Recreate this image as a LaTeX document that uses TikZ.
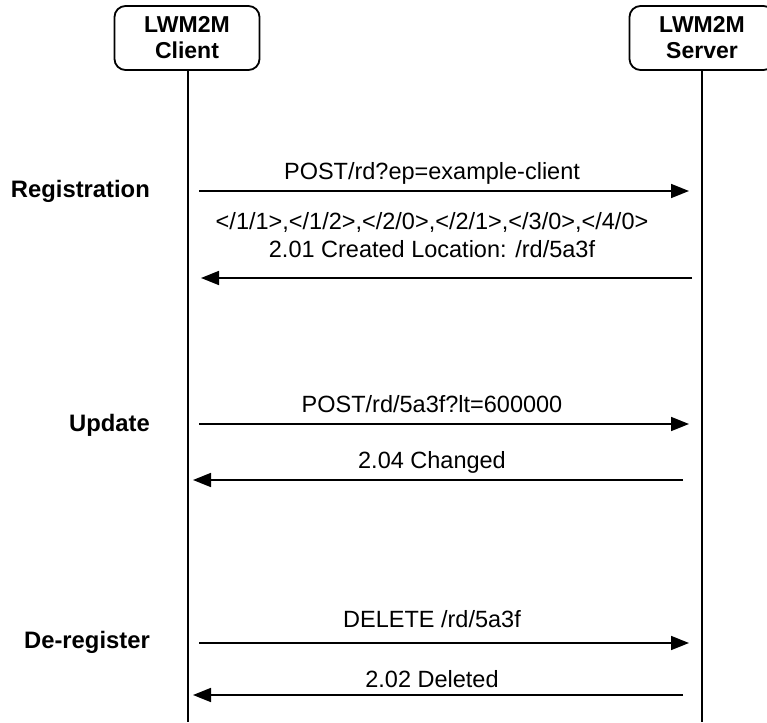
\documentclass[tikz,border=0pt]{standalone}
\usepackage{fontspec}
\setmainfont{Liberation Sans}
\usetikzlibrary{arrows.meta}
\tikzset{
  actor/.style={draw, line width=1.8pt, rounded corners=11pt, minimum width=145pt, minimum height=64pt,
    align=center, inner sep=0pt, font=\fontsize{23}{26}\selectfont\bfseries},
  lifeline/.style={line width=1.9pt},
  msg/.style={line width=1.7pt, -{Triangle[length=18pt,width=14pt]}},
  msglabel/.style={anchor=base, inner sep=0pt, font=\fontsize{23.5}{24}\selectfont},
  phase/.style={anchor=base east, inner sep=0pt, font=\fontsize{23.8}{24}\selectfont\bfseries}
}
\begin{document}
\begin{tikzpicture}[x=1pt,y=-1pt]
\useasboundingbox (0,0) rectangle (767,722);
% actors
\node[actor] (client) at (187,38) {LWM2M\\Client};
\node[actor] (server) at (702,38) {LWM2M\\Server};
% lifelines
\coordinate (cbot) at (188,722);
\coordinate (sbot) at (702,722);
\draw[lifeline] (client.south -| cbot) -- (cbot);
\draw[lifeline] (server.south -| sbot) -- (sbot);
% phase labels
\node[phase] (reg) at (150,197) {Registration};
\node[phase] (upd) at (150,431) {Update};
\node[phase] (dereg) at (150,648) {De-register};
% message endpoints
\coordinate (a1s) at (199,191); \coordinate (a1e) at (689,191);
\coordinate (a2s) at (692,278); \coordinate (a2e) at (201,278);
\coordinate (a3s) at (199,424); \coordinate (a3e) at (689,424);
\coordinate (a4s) at (683,480); \coordinate (a4e) at (193,480);
\coordinate (a5s) at (199,643); \coordinate (a5e) at (689,643);
\coordinate (a6s) at (683,695); \coordinate (a6e) at (193,695);
\draw[msg] (a1s) -- (a1e);
\draw[msg] (a2s) -- (a2e);
\draw[msg] (a3s) -- (a3e);
\draw[msg] (a4s) -- (a4e);
\draw[msg] (a5s) -- (a5e);
\draw[msg] (a6s) -- (a6e);
% message labels
\node[msglabel] (l1) at (432,179) {POST/rd?ep=example-client};
\node[msglabel] (l1b) at (432,229) {</1/1>,</1/2>,</2/0>,</2/1>,</3/0>,</4/0>};
\node[msglabel] (l2) at (432,257) {2.01 Created Location: /rd/5a3f};
\node[msglabel] (l3) at (432,412) {POST/rd/5a3f?lt=600000};
\node[msglabel] (l4) at (432,468) {2.04 Changed};
\node[msglabel] (l5) at (432,627) {DELETE /rd/5a3f};
\node[msglabel] (l6) at (432,687) {2.02 Deleted};
\end{tikzpicture}
\end{document}
